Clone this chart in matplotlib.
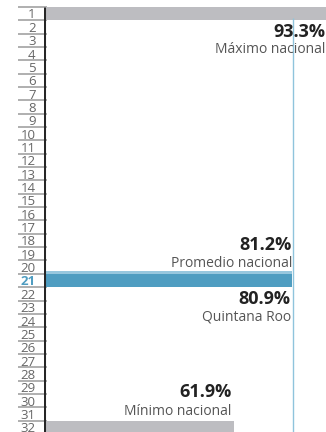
import matplotlib.pyplot as plt

ranks = list(range(1, 33))
bar_ranks = [1, 21, 32]
bar_values = [93.3, 80.9, 61.9]
bar_colors = ["#bdbdc1", "#4f9dc1", "#bdbdc1"]
avg_value = 81.2
highlight = 21

plt.rcParams["font.family"] = ["Open Sans", "DejaVu Sans"]

fig = plt.figure(figsize=(3.26, 4.32), dpi=100)
ax = fig.add_axes([44 / 326, 0, 282 / 326, 1])
xmax = 282 / 3.066

# bars
ax.barh(bar_ranks, bar_values, height=1.0, color=bar_colors, zorder=2)
ax.barh([highlight - 0.6], [bar_values[1]], height=0.22, color="#97c7de", zorder=2)

# national average line
ax.vlines(avg_value, 1.35, 32.35, color="#8fc4dc", lw=1.0, zorder=3)

# row separators on the left
for r in ranks:
    ax.plot([-8.5, 1.0], [r - 0.5, r - 0.5], color="#a9a9a9", lw=1.3,
            clip_on=False, zorder=1, solid_capstyle="butt")

# axis line
ax.vlines(0, 0.5, 32.35, color="#262626", lw=2.2, zorder=4)

ax.set_xlim(0, xmax)
ax.set_ylim(32.35, -0.01)

ax.set_yticks(ranks)
ax.set_yticklabels([str(r) for r in ranks])
ax.tick_params(axis="y", length=0, pad=6, labelsize=9.5, labelcolor="#666666")
for lab in ax.get_yticklabels():
    if lab.get_text() == str(highlight):
        lab.set_color("#4f9dc1")
        lab.set_fontweight("bold")
ax.set_xticks([])
for s in ax.spines.values():
    s.set_visible(False)

num_kw = dict(ha="right", va="center", fontsize=13, fontweight="bold", color="#222222")
lab_kw = dict(ha="right", va="center", fontsize=10, color="#555555")

ax.text(xmax - 0.2, 2.35, f"{bar_values[0]}%", **num_kw)
ax.text(xmax - 0.2, 3.68, "Máximo nacional", **lab_kw)
ax.text(avg_value - 0.4, 18.35, f"{avg_value}%", **num_kw)
ax.text(avg_value - 0.2, 19.75, "Promedio nacional", **lab_kw)
ax.text(bar_values[1] - 0.4, 22.35, f"{bar_values[1]}%", **num_kw)
ax.text(bar_values[1] - 0.4, 23.75, "Quintana Roo", **lab_kw)
ax.text(bar_values[2] - 0.7, 29.35, f"{bar_values[2]}%", **num_kw)
ax.text(bar_values[2] - 0.7, 30.8, "Mínimo nacional", **lab_kw)

fig.savefig("out.png", dpi=100)
